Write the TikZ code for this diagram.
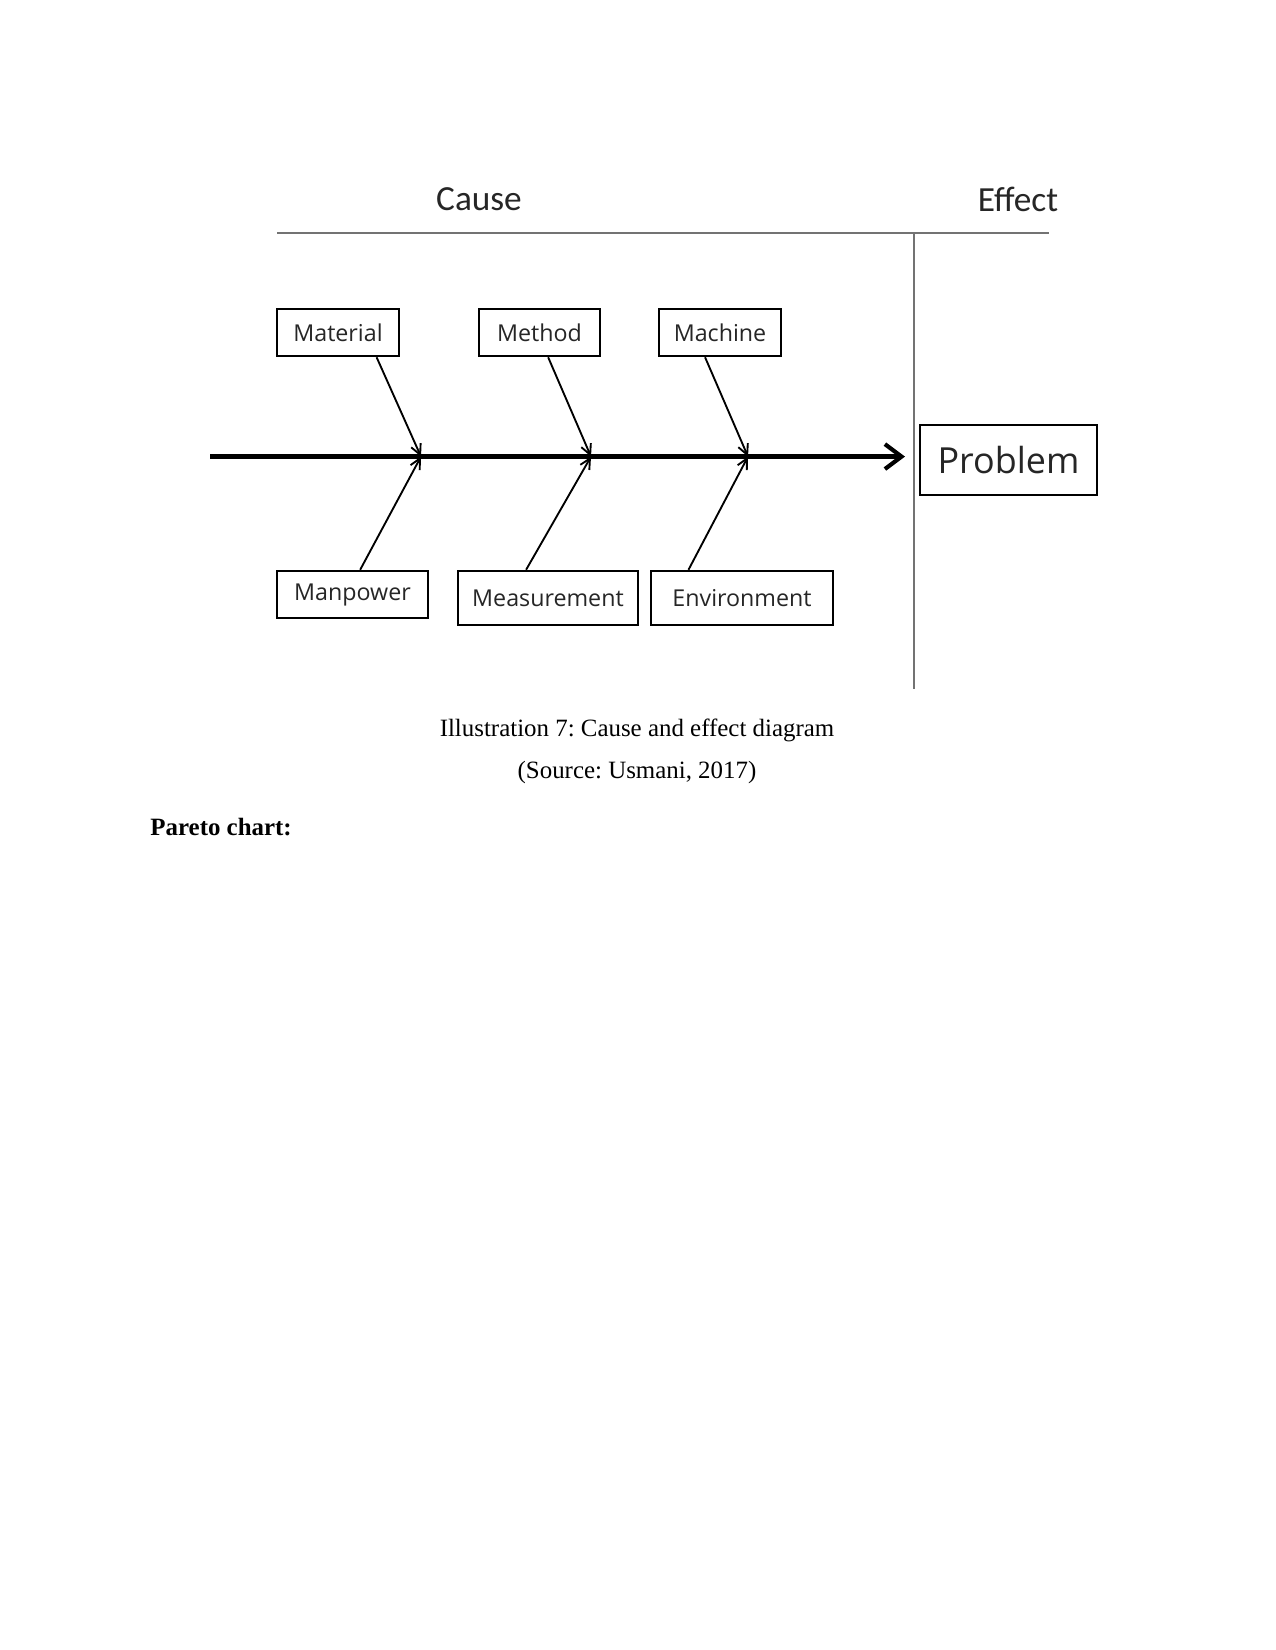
\documentclass[tikz,border=0pt]{standalone}
\usepackage{fontspec}
\setmainfont{Liberation Serif}
\newfontfamily\labfont{Open Sans}
\newfontfamily\headfont{Carlito}
\usetikzlibrary{arrows.meta,calc}
\frenchspacing
\begin{document}
\begin{tikzpicture}[x=0.4818pt,y=-0.4818pt,
  causebox/.style={draw=black,line width=1.2pt,inner sep=0pt,font=\labfont\fontsize{11.2}{13}\selectfont,text=black!85},
  branch/.style={line width=0.9pt,-{Straight Barb[length=5pt,width=5pt]}},
  spine/.style={line width=2.4pt,-{Straight Barb[length=8pt,width=12pt,line width=2pt]}},
  divider/.style={draw=black!55,line width=1pt},
  headtext/.style={font=\headfont\fontsize{17}{20}\selectfont,text=black!85},
  captext/.style={font=\fontsize{12}{14}\selectfont}]
\useasboundingbox (0,0) rectangle (1275,1650);
\fill[white] (0,0) rectangle (1275,1650);
% headings and dividers
\node[headtext] (cause) at (479,199) {Cause};
\node[headtext] (effect) at (1018,199) {Effect};
\coordinate (tl) at (277,233);
\coordinate (tr) at (1049,233);
\coordinate (vt) at (914,233);
\coordinate (vb) at (914,689);
\draw[divider] (tl) -- (tr);
\draw[divider] (vt) -- (vb);
% boxes
\node[causebox,minimum width=122*0.4818pt,minimum height=47*0.4818pt] (mat) at (338,332.5) {Material};
\node[causebox,minimum width=121*0.4818pt,minimum height=47*0.4818pt] (met) at (539.5,332.5) {Method};
\node[causebox,minimum width=122*0.4818pt,minimum height=47*0.4818pt] (mac) at (720,332.5) {Machine};
\node[causebox,minimum width=151*0.4818pt,minimum height=47*0.4818pt] (man) at (352.5,594.5) {Manpower};
\node[causebox,minimum width=180*0.4818pt,minimum height=54*0.4818pt] (mea) at (548,598) {Measurement};
\node[causebox,minimum width=182*0.4818pt,minimum height=54*0.4818pt] (env) at (742,598) {Environment};
\node[draw=black,line width=1.2pt,inner sep=0pt,minimum width=177*0.4818pt,minimum height=70*0.4818pt,
  font=\labfont\fontsize{17.3}{20}\selectfont,text=black!85] (prob) at (1008.5,460) {Problem};
% spine
\coordinate (s0) at (210,456.6);
\coordinate (s1) at (905,456.6);
\coordinate (j1) at (421,456.6);
\coordinate (j2) at (591,456.6);
\coordinate (j3) at (748,456.6);
\draw[spine] (s0) -- (s1);
% branches
\draw[branch] ($(mat.south west)!0.81!(mat.south east)$) -- (j1);
\draw[branch] ($(met.south west)!0.57!(met.south east)$) -- (j2);
\draw[branch] ($(mac.south west)!0.38!(mac.south east)$) -- (j3);
\draw[branch] ($(man.north west)!0.55!(man.north east)$) -- (j1);
\draw[branch] ($(mea.north west)!0.38!(mea.north east)$) -- (j2);
\draw[branch] ($(env.north west)!0.21!(env.north east)$) -- (j3);
% caption
\node[captext] (cap1) at (637,730) {Illustration 7: Cause and effect diagram};
\node[captext] (cap2) at (637,773) {(Source: Usmani, 2017)};
\node[captext,anchor=west,inner sep=0pt,font=\bfseries\fontsize{12}{14}\selectfont] (pareto) at (150,827) {Pareto chart:};
\end{tikzpicture}
\end{document}
